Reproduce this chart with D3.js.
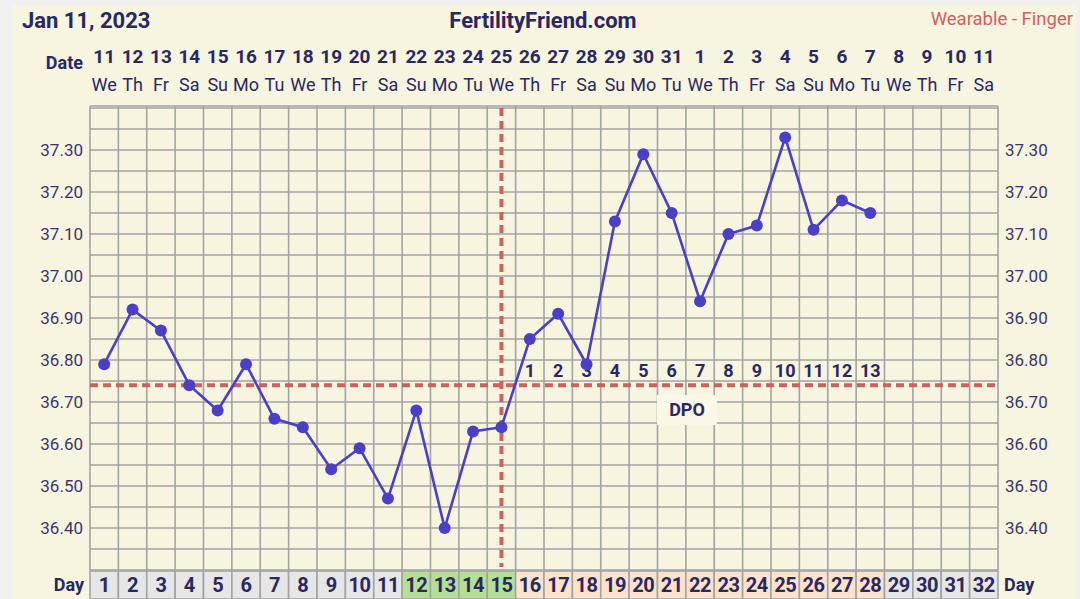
<!DOCTYPE html>
<html>
<head>
<meta charset="utf-8">
<script src="https://cdn.jsdelivr.net/npm/d3@7/dist/d3.min.js"></script>
<style>
  body { margin: 0; background: #f0f0f0; }
  svg { display: block; font-family: Roboto, "Noto Sans", sans-serif; }
</style>
</head>
<body>
<svg width="1080" height="599"></svg>
<script>
// chart data
var cycleDays = d3.range(1, 33);
var dateNums = [11,12,13,14,15,16,17,18,19,20,21,22,23,24,25,26,27,28,29,30,31,1,2,3,4,5,6,7,8,9,10,11];
var weekDays = ['We','Th','Fr','Sa','Su','Mo','Tu','We','Th','Fr','Sa','Su','Mo','Tu','We','Th','Fr','Sa','Su','Mo','Tu','We','Th','Fr','Sa','Su','Mo','Tu','We','Th','Fr','Sa'];
var temps = [36.79,36.92,36.87,36.74,36.68,36.79,36.66,36.64,36.54,36.59,36.47,36.68,36.40,36.63,36.64,
             36.85,36.91,36.79,37.13,37.29,37.15,36.94,37.10,37.12,37.33,37.11,37.18,37.15];
var phases = ['none','none','none','none','none','none','none','none','none','none','none',
              'fertile','fertile','fertile','fertile',
              'luteal','luteal','luteal','luteal','luteal','luteal','luteal','luteal','luteal','luteal','luteal','luteal','luteal',
              'none','none','none','none'];
var tempTicks = [37.30,37.20,37.10,37.00,36.90,36.80,36.70,36.60,36.50,36.40];
var coverLine = 36.74;
var ovulationDay = 15;

var navy = '#2b2762';
var phaseColor = { none: '#e6e6e6', fertile: '#b3e095', luteal: '#fde3cb' };

var svg = d3.select('svg');

// panel background
svg.append('rect').attr('x', 12).attr('y', 5).attr('width', 1064).attr('height', 594)
    .style('fill', '#f7f4df');

// scales
var x = d3.scaleBand().domain(cycleDays).range([90, 998]);
var y = d3.scaleLinear().domain([36.30, 37.40]).range([570, 108]);
var gridTop = 106, gridBottom = 570;

// grid
var grid = svg.append('g').style('stroke', '#a3a3a3').style('stroke-width', 1.6);
var hLines = d3.range(36.30, 37.401, 0.05);
grid.selectAll('.h').data(hLines).enter().append('line')
    .attr('x1', 90).attr('x2', 998)
    .attr('y1', function(d) { return y(d); }).attr('y2', function(d) { return y(d); });
grid.append('line').attr('x1', 90).attr('x2', 998).attr('y1', gridTop).attr('y2', gridTop);
grid.selectAll('.v').data(cycleDays.concat([33])).enter().append('line')
    .attr('x1', function(d) { return d === 33 ? 998 : x(d); })
    .attr('x2', function(d) { return d === 33 ? 998 : x(d); })
    .attr('y1', gridTop).attr('y2', gridBottom);

// temperature axes
var leftAxis = d3.axisLeft(y).tickValues(tempTicks).tickFormat(d3.format('.2f')).tickSize(0).tickPadding(7);
var rightAxis = d3.axisRight(y).tickValues(tempTicks).tickFormat(d3.format('.2f')).tickSize(0).tickPadding(7);
[[leftAxis, 90], [rightAxis, 998]].forEach(function(a) {
    var g = svg.append('g').attr('transform', 'translate(' + a[1] + ',0)').call(a[0]);
    g.select('.domain').remove();
    g.selectAll('text').style('font-size', '17px').style('fill', '#3a3570')
        .style('font-family', 'Roboto, sans-serif');
});

// cover line and ovulation line
svg.append('line')
    .attr('x1', 90).attr('x2', 998)
    .attr('y1', y(coverLine)).attr('y2', y(coverLine))
    .style('stroke', '#d0605e').style('stroke-width', 4).style('stroke-dasharray', '8,5');
svg.append('line')
    .attr('x1', x(ovulationDay) + x.bandwidth() / 2).attr('x2', x(ovulationDay) + x.bandwidth() / 2)
    .attr('y1', gridTop + 2).attr('y2', 567)
    .style('stroke', '#d0605e').style('stroke-width', 4).style('stroke-dasharray', '8,5');

// DPO numbers
var dpoDays = cycleDays.filter(function(d) { return d > ovulationDay && d <= temps.length; });
svg.selectAll('.dpo').data(dpoDays).enter().append('text')
    .attr('x', function(d) { return x(d) + x.bandwidth() / 2; })
    .attr('y', y(coverLine) - 8)
    .attr('text-anchor', 'middle')
    .style('font-size', '18px').style('font-weight', 'bold').style('fill', navy)
    .text(function(d) { return d - ovulationDay; });

// DPO label
svg.append('rect').attr('x', 657).attr('y', 395).attr('width', 60).attr('height', 30)
    .style('fill', '#f9f7e6');
svg.append('text').attr('x', 687).attr('y', 416).attr('text-anchor', 'middle')
    .style('font-size', '18px').style('font-weight', 'bold').style('fill', navy).text('DPO');

// temperature line
var line = d3.line()
    .x(function(d, i) { return x(i + 1) + x.bandwidth() / 2; })
    .y(function(d) { return y(d); });
svg.append('path').datum(temps).attr('d', line)
    .style('fill', 'none').style('stroke', '#4a3fc6').style('stroke-width', 2.6);
svg.selectAll('.pt').data(temps).enter().append('circle')
    .attr('cx', function(d, i) { return x(i + 1) + x.bandwidth() / 2; })
    .attr('cy', function(d) { return y(d); })
    .attr('r', 6)
    .style('fill', '#4a3fc6');

// day row
var dayRow = svg.selectAll('.day').data(cycleDays).enter().append('g');
dayRow.append('rect')
    .attr('x', function(d) { return x(d); }).attr('y', 571)
    .attr('width', x.bandwidth()).attr('height', 28)
    .style('fill', function(d, i) { return phaseColor[phases[i]]; })
    .style('stroke', '#a3a3a3').style('stroke-width', 1.6);
dayRow.append('text')
    .attr('x', function(d) { return x(d) + x.bandwidth() / 2; }).attr('y', 592)
    .attr('text-anchor', 'middle')
    .style('font-size', '20px').style('font-weight', 'bold').style('fill', navy)
    .style('letter-spacing', '-0.5px')
    .text(function(d) { return d; });
svg.append('text').attr('x', 84).attr('y', 591).attr('text-anchor', 'end')
    .style('font-size', '18px').style('font-weight', 'bold').style('fill', navy).text('Day');
svg.append('text').attr('x', 1004).attr('y', 591)
    .style('font-size', '18px').style('font-weight', 'bold').style('fill', navy).text('Day');

// date header
svg.selectAll('.dn').data(cycleDays).enter().append('text')
    .attr('x', function(d) { return x(d) + x.bandwidth() / 2; }).attr('y', 63)
    .attr('text-anchor', 'middle')
    .style('font-size', '19px').style('font-weight', 'bold').style('fill', navy)
    .text(function(d, i) { return dateNums[i]; });
svg.selectAll('.wd').data(cycleDays).enter().append('text')
    .attr('x', function(d) { return x(d) + x.bandwidth() / 2; }).attr('y', 91)
    .attr('text-anchor', 'middle')
    .style('font-size', '18px').style('fill', navy)
    .text(function(d, i) { return weekDays[i]; });
svg.append('text').attr('x', 83).attr('y', 69).attr('text-anchor', 'end')
    .style('font-size', '18px').style('font-weight', 'bold').style('fill', navy).text('Date');

// titles
svg.append('text').attr('x', 22).attr('y', 28)
    .style('font-size', '22px').style('font-weight', 'bold').style('fill', navy).text('Jan 11, 2023');
svg.append('text').attr('x', 543).attr('y', 28).attr('text-anchor', 'middle')
    .style('font-size', '22px').style('font-weight', 'bold').style('fill', navy).text('FertilityFriend.com');
svg.append('text').attr('x', 1073).attr('y', 25).attr('text-anchor', 'end')
    .style('font-size', '18.5px').style('fill', '#d0605e').text('Wearable - Finger');
</script>
</body>
</html>
